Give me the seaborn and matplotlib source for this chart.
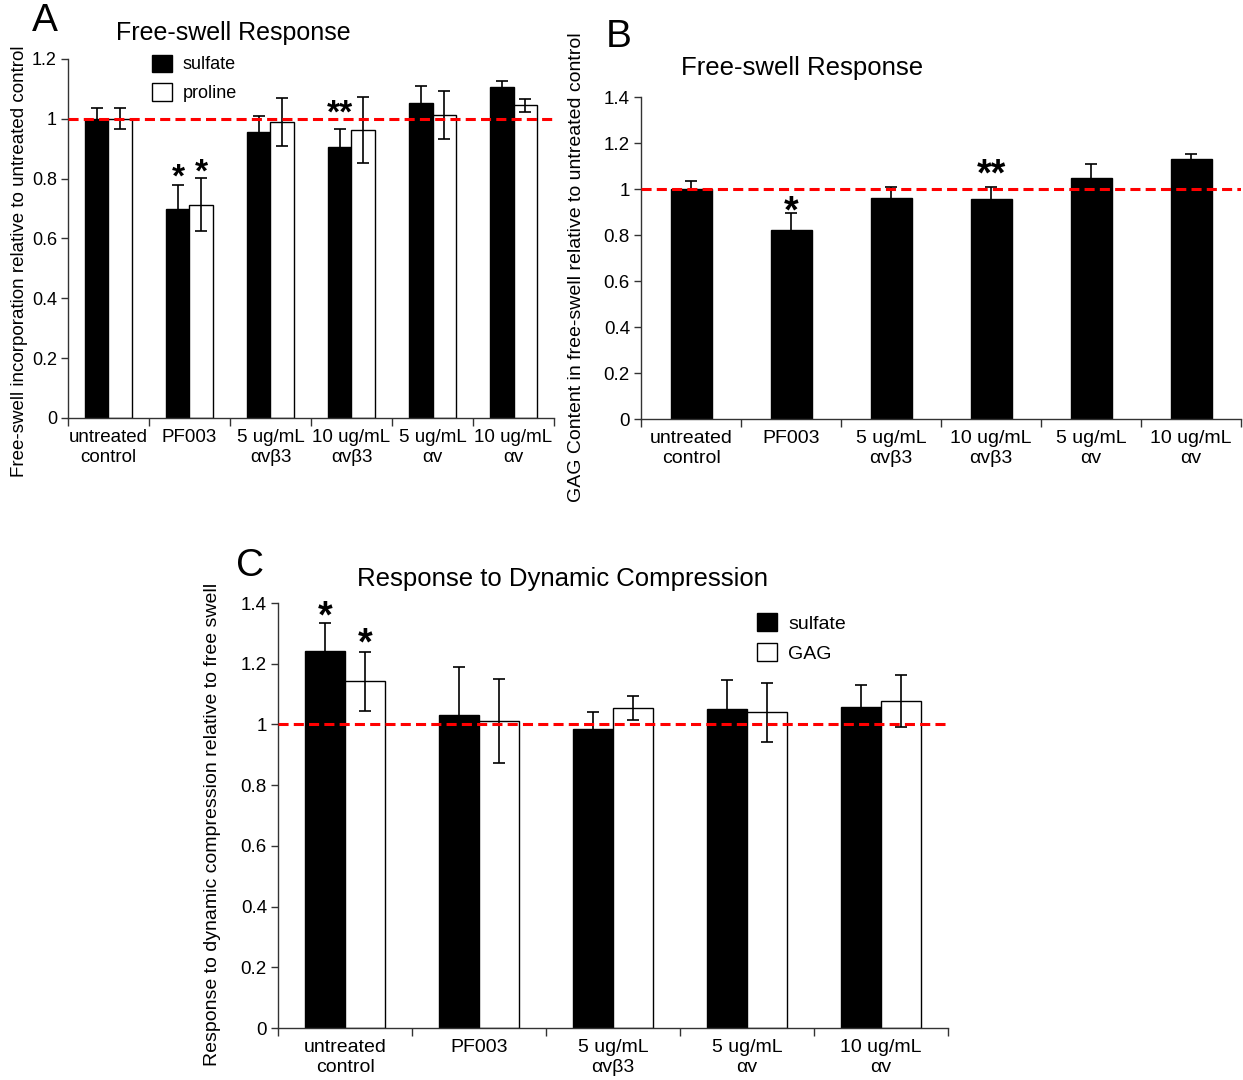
import matplotlib
matplotlib.use("Agg")
import matplotlib.pyplot as plt
from matplotlib.patches import Patch
import seaborn as sns
import pandas as pd

# ── data ─────────────────────────────────────────────────────────────
groups_ab = ["untreated\ncontrol", "PF003", "5 ug/mL\nαvβ3", "10 ug/mL\nαvβ3",
             "5 ug/mL\nαv", "10 ug/mL\nαv"]
groups_c = ["untreated\ncontrol", "PF003", "5 ug/mL\nαvβ3", "5 ug/mL\nαv",
            "10 ug/mL\nαv"]

sulfate_a = [1.00, 0.70, 0.955, 0.905, 1.053, 1.106]
sulfate_a_err = [0.035, 0.08, 0.053, 0.06, 0.058, 0.021]
proline_a = [1.00, 0.713, 0.99, 0.963, 1.013, 1.045]
proline_a_err = [0.035, 0.088, 0.08, 0.11, 0.08, 0.022]

gag_b = [1.00, 0.824, 0.96, 0.955, 1.049, 1.129]
gag_b_err = [0.035, 0.07, 0.05, 0.056, 0.058, 0.022]

sulfate_c = [1.242, 1.031, 0.986, 1.051, 1.056]
sulfate_c_err = [0.092, 0.158, 0.055, 0.097, 0.073]
gag_c = [1.143, 1.012, 1.055, 1.040, 1.077]
gag_c_err = [0.097, 0.138, 0.04, 0.098, 0.085]

# significance marks: (series, group index, height, text)
stars_a = [("sulfate", 1, 0.822, "*"), ("proline", 1, 0.839, "*"),
           ("sulfate", 3, 1.036, "**")]
stars_b = [("GAG", 1, 0.930, "*"), ("GAG", 3, 1.091, "**")]
stars_c = [("sulfate", 0, 1.375, "*"), ("GAG", 0, 1.285, "*")]

yticks_a = [0, 0.2, 0.4, 0.6, 0.8, 1.0, 1.2]
yticks_bc = [0, 0.2, 0.4, 0.6, 0.8, 1.0, 1.2, 1.4]

sns.set_style("ticks")
plt.rcParams["font.family"] = ["Liberation Sans", "DejaVu Sans"]
plt.rcParams.update({"text.color": "black", "axes.labelcolor": "black",
                     "xtick.color": "black", "ytick.color": "black"})

fig = plt.figure(figsize=(12.43, 10.8), dpi=100)


def draw_panel(ax, groups, series, errs, palette, width, yticks, fs, ylabel,
               stars, star_fs):
    rows = []
    for name, vals in series.items():
        for g, v in zip(groups, vals):
            rows.append({"group": g, "series": name, "value": v})
    df = pd.DataFrame(rows)
    names = list(series)
    sns.barplot(data=df, x="group", y="value", hue="series", order=groups,
                hue_order=names, palette=palette, edgecolor="black",
                linewidth=1, width=width, errorbar=None, legend=False,
                saturation=1, ax=ax)

    centers = {}
    for name, cont in zip(names, ax.containers):
        xs = [b.get_x() + b.get_width() / 2 for b in cont]
        ys = [b.get_height() for b in cont]
        centers[name] = xs
        ax.errorbar(xs, ys, yerr=errs[name], fmt="none", ecolor="black",
                    elinewidth=1.2, capsize=4.5, capthick=1.2, zorder=3)

    # asterisk glyph sits high in the em box: anchor at the baseline
    for name, i, y, txt in stars:
        ax.annotate(txt, (centers[name][i], y),
                    xytext=(0, -0.45 * star_fs), textcoords="offset points",
                    ha="center", va="baseline", fontsize=star_fs,
                    fontweight="bold")

    n = len(groups)
    ax.axhline(1, color="#ff0000", lw=2.2, ls=(0, (3.3, 1.7)), zorder=5)
    ax.set_xlim(-0.5, n - 0.5)
    ax.set_ylim(0, yticks[-1])
    ax.set_yticks(yticks)
    ax.set_yticklabels([f"{t:g}" for t in yticks])
    ax.set_xticks(range(n))
    ax.set_xticklabels(groups)
    ax.set_xticks([i - 0.5 for i in range(n + 1)], minor=True)
    ax.tick_params(axis="x", which="major", length=0, pad=8, labelsize=fs)
    ax.tick_params(axis="x", which="minor", length=6, width=1,
                   color="#333333")
    ax.tick_params(axis="y", length=5, width=1, color="#333333",
                   labelsize=fs - 0.5, pad=3)
    ax.set_xlabel("")
    ax.set_ylabel(ylabel, fontsize=fs, va="center", ha="center")
    sns.despine(ax=ax)
    for s in ("left", "bottom"):
        ax.spines[s].set_color("#333333")
        ax.spines[s].set_linewidth(1)


# ── Panel A ──────────────────────────────────────────────────────────
ax_a = fig.add_axes([0.0547, 0.613, 0.391, 0.3324])
draw_panel(ax_a, groups_ab,
           {"sulfate": sulfate_a, "proline": proline_a},
           {"sulfate": sulfate_a_err, "proline": proline_a_err},
           {"sulfate": "black", "proline": "white"}, 0.57, yticks_a, 13.5,
           "Free-swell incorporation relative to untreated control", stars_a,
           24)
ax_a.yaxis.set_label_coords(-0.099, 0.437)
ax_a.legend(handles=[Patch(facecolor="black", edgecolor="black"),
                     Patch(facecolor="white", edgecolor="black")],
            labels=["sulfate", "proline"], loc="upper left",
            bbox_to_anchor=(0.173, 1.012), frameon=False, fontsize=13,
            handlelength=1.1, handleheight=1.1, handletextpad=0.6,
            labelspacing=0.55, borderpad=0, borderaxespad=0)

# ── Panel B ──────────────────────────────────────────────────────────
ax_b = fig.add_axes([0.5157, 0.612, 0.4827, 0.2981])
draw_panel(ax_b, groups_ab, {"GAG": gag_b}, {"GAG": gag_b_err},
           {"GAG": "black"}, 0.41, yticks_bc, 14,
           "GAG Content in free-swell relative to untreated control", stars_b,
           27)
ax_b.yaxis.set_label_coords(-0.1067, 0.472)

# ── Panel C ──────────────────────────────────────────────────────────
ax_c = fig.add_axes([0.2237, 0.0481, 0.539, 0.3935])
draw_panel(ax_c, groups_c,
           {"sulfate": sulfate_c, "GAG": gag_c},
           {"sulfate": sulfate_c_err, "GAG": gag_c_err},
           {"sulfate": "black", "GAG": "white"}, 0.6, yticks_bc, 14,
           "Response to dynamic compression relative to free swell", stars_c,
           27)
ax_c.yaxis.set_label_coords(-0.0985, 0.479)
ax_c.legend(handles=[Patch(facecolor="black", edgecolor="black"),
                     Patch(facecolor="white", edgecolor="black")],
            labels=["sulfate", "GAG"], loc="upper left",
            bbox_to_anchor=(0.715, 0.976), frameon=False, fontsize=14,
            handlelength=1.0, handleheight=1.0, handletextpad=0.6,
            labelspacing=0.55, borderpad=0, borderaxespad=0)

# titles and panel letters
fig.text(0.1877, 0.9694, "Free-swell Response", ha="center", va="center",
         fontsize=18)
fig.text(0.6452, 0.937, "Free-swell Response", ha="center", va="center",
         fontsize=18.5)
fig.text(0.4529, 0.4639, "Response to Dynamic Compression", ha="center",
         va="center", fontsize=18.5)
fig.text(0.036, 0.981, "A", ha="center", va="center", fontsize=28)
fig.text(0.498, 0.966, "B", ha="center", va="center", fontsize=28)
fig.text(0.201, 0.476, "C", ha="center", va="center", fontsize=28)

fig.savefig("out.png", dpi=100)
